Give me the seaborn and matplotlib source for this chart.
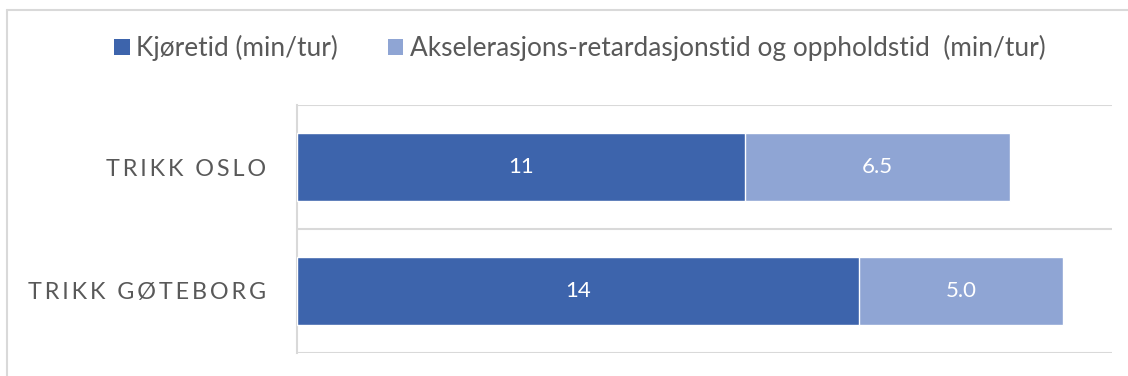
import matplotlib
matplotlib.use("Agg")
import matplotlib.pyplot as plt
from matplotlib.lines import Line2D
from matplotlib.patches import Patch
import seaborn as sns
import pandas as pd

# Data
categories = ["TRIKK OSLO", "TRIKK GØTEBORG"]
kjoretid = [11.0, 13.8]
aks_opphold = [6.5, 5.0]
series_names = ["Kjøretid (min/tur)",
                "Akselerasjons-retardasjonstid og oppholdstid  (min/tur)"]

dark = "#3D64AC"
light = "#8FA5D4"
grid_col = "#D9D9D9"
text_col = "#595959"

sns.set_theme(style="white")
plt.rcParams["font.family"] = ["Lato", "DejaVu Sans"]

df = pd.DataFrame({
    "kategori": categories,
    "kjoretid": kjoretid,
    "aks": aks_opphold,
})
df["total"] = df["kjoretid"] + df["aks"]

fig = plt.figure(figsize=(11.28, 3.76), dpi=100)
ax = fig.add_axes([297 / 1128, 1 - 353 / 376, (1112 - 297) / 1128, (353 - 105) / 376])

# Stacked bars: totals in the light colour, first segment drawn over it
sns.barplot(data=df, y="kategori", x="total", color=light, width=0.556,
            saturation=1, orient="h", ax=ax, zorder=2)
sns.barplot(data=df, y="kategori", x="kjoretid", color=dark, width=0.556,
            saturation=1, orient="h", ax=ax, zorder=3)

ax.set_xlim(0, 20)
ax.set_ylim(1.5, -0.5)
ax.set_xlabel("")
ax.set_ylabel("")
ax.set_xticks([])

# Category separators
for yv in [-0.5, 0.5, 1.5]:
    ax.axhline(yv, color=grid_col, lw=1.5, zorder=1)

for s in ["top", "right", "bottom"]:
    ax.spines[s].set_visible(False)
ax.spines["left"].set_color(grid_col)
ax.spines["left"].set_linewidth(1.5)

# Letter-spaced category labels
spaced = ["\u2009".join(list(c)).replace("\u2009 \u2009", "\u2009\u2009 ") for c in categories]
ax.set_yticks(range(len(categories)))
ax.set_yticklabels(spaced, fontsize=16.8, color=text_col, family=["Lato", "DejaVu Sans"])
ax.tick_params(axis="y", length=0, pad=22)

# Value labels
for i, (a, b) in enumerate(zip(kjoretid, aks_opphold)):
    ax.text(a / 2, i, f"{a:.0f}", ha="center", va="center", color="white",
            fontsize=16, zorder=5)
    ax.text(a + b / 2, i, f"{b:.1f}", ha="center", va="center", color="white",
            fontsize=16, zorder=5)

handles = [Patch(facecolor=dark, edgecolor="none"), Patch(facecolor=light, edgecolor="none")]
fig.legend(handles, series_names, loc="center", bbox_to_anchor=(0.514, 0.872),
           ncol=2, frameon=False, handlelength=0.58, handleheight=0.6,
           handletextpad=0.25, columnspacing=1.9,
           prop={"family": "Lato", "size": 18.9}, labelcolor=text_col)

# Outer chart frame
fig.add_artist(Line2D([7 / 1128, 7 / 1128], [0, 1 - 9.5 / 376], transform=fig.transFigure,
                      color=grid_col, lw=1.5))
fig.add_artist(Line2D([7 / 1128, 1], [1 - 9.5 / 376, 1 - 9.5 / 376], transform=fig.transFigure,
                      color=grid_col, lw=1.5))

fig.savefig("out.png", dpi=100, facecolor="white")
